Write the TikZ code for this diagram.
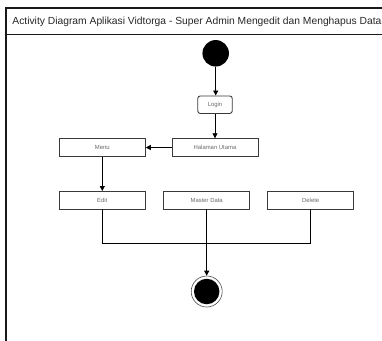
\documentclass[tikz,border=0pt]{standalone}
\usepackage{fontspec}
\setmainfont{Liberation Sans}
\usetikzlibrary{arrows.meta}
\definecolor{boxline}{HTML}{3A3A3A}
\definecolor{boxtext}{HTML}{6A6A6A}
\begin{document}
\begin{tikzpicture}[x=1pt,y=-1pt,
  action/.style={draw=boxline,line width=0.9pt,fill=white,minimum width=86pt,minimum height=17.5pt,inner sep=0pt,font=\fontsize{5.9}{7}\selectfont,text=boxtext},
  flow/.style={draw=black,line width=0.8pt,-{Triangle[length=5pt,width=5pt]}},
  link/.style={draw=black,line width=0.8pt}]
\useasboundingbox (0,0) rectangle (382,340);
% frame with title band
\draw[line width=1.6pt,draw=black!90] (390,8) -- (6,8) -- (6,345);
\draw[line width=1.2pt,draw=black!90] (6,34.5) -- (390,34.5);
\node[anchor=west,font=\fontsize{10.3}{12}\selectfont,text=black!85,inner sep=0pt] (title) at (12.2,21.8) {Activity Diagram Aplikasi Vidtorga - Super Admin Mengedit dan Menghapus Data};
% start
\node[circle,fill=black,minimum size=26.5pt,inner sep=0pt] (start) at (215.7,53.3) {};
% actions
\node[action,rounded corners=2.5pt,minimum width=34.5pt] (login) at (215,104.7) {Login};
\node[action] (home) at (215,147.5) {Halaman Utama};
\node[action] (menu) at (102.3,147.5) {Menu};
\node[action] (edit) at (102.3,200.2) {Edit};
\node[action] (master) at (206.7,200.2) {Master Data};
\node[action] (delete) at (310.7,200.2) {Delete};
% end
\node[circle,draw=black!70,line width=0.6pt,fill=white,minimum size=31pt,inner sep=0pt] (stop) at (206.7,291.5) {};
\node[circle,fill=black,minimum size=25.5pt,inner sep=0pt] (stopdot) at (stop) {};
\coordinate (j) at (206.7,243.3);
% flows
\draw[flow] (start) -- (start |- login.north);
\draw[flow] (login) -- (home);
\draw[flow] (home) -- (menu);
\draw[flow] (menu) -- (edit);
\draw[link] (edit.south) |- (j) -| (delete.south);
\draw[flow] (master) -- (stop);
\end{tikzpicture}
\end{document}
